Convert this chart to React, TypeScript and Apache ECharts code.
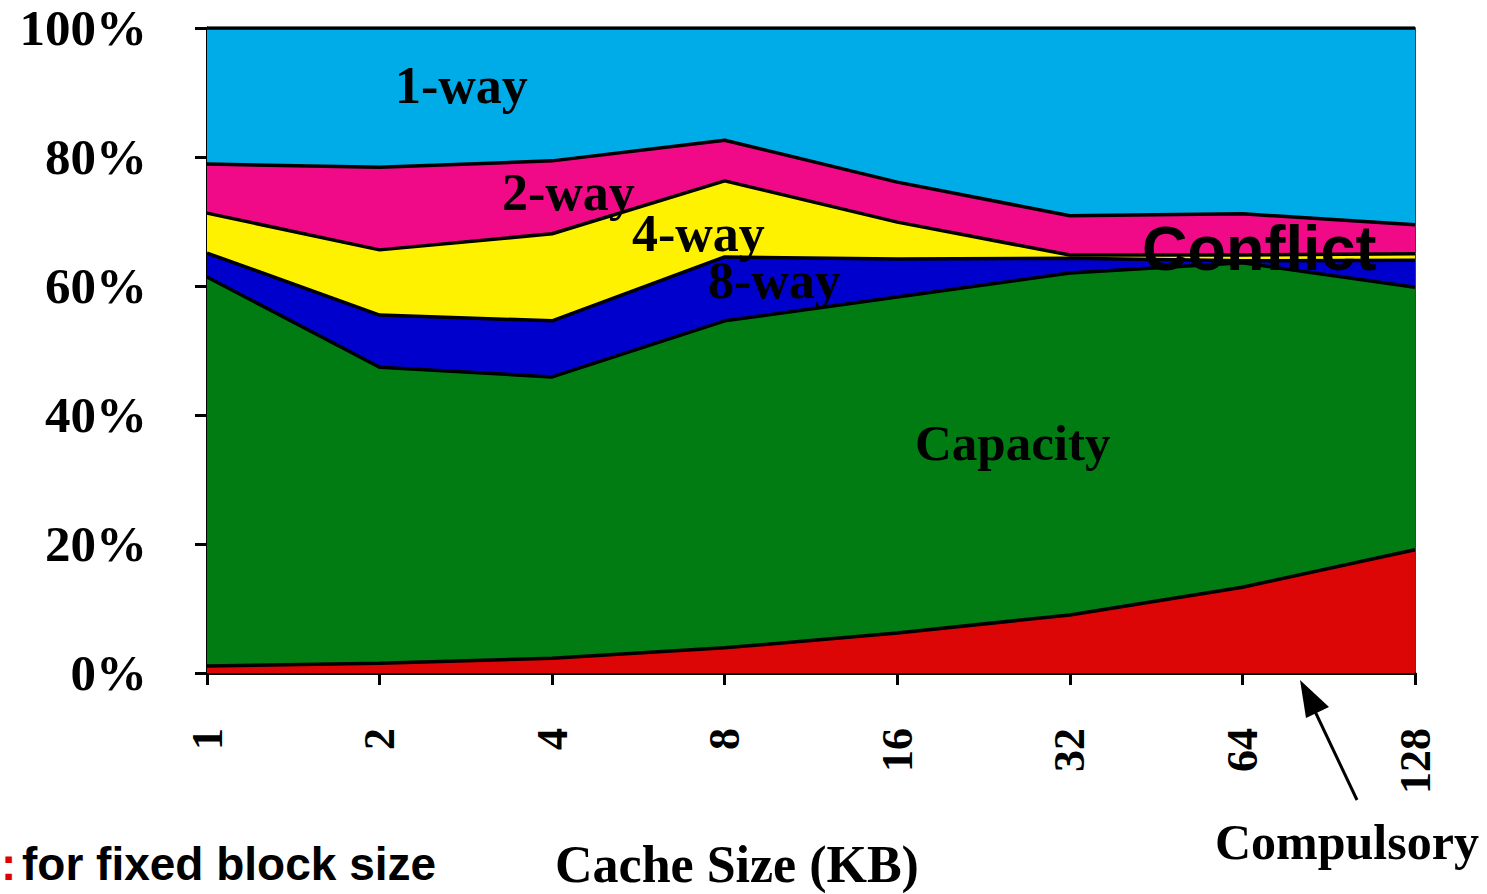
import React, { useEffect, useRef } from "react";
import * as echarts from "echarts";

const categories = ["1", "2", "4", "8", "16", "32", "64", "128"];
const compulsory = [1.1, 1.5, 2.3, 3.9, 6.2, 9.0, 13.3, 19.1];
const capacity = [60.3, 45.9, 43.6, 50.7, 52.1, 53.0, 50.3, 40.7];
const way8 = [3.7, 8.1, 8.7, 9.9, 5.9, 2.3, 0.3, 4.2];
const way4 = [6.2, 10.1, 13.5, 11.8, 5.7, 0.5, 0.9, 1.0];
const way2 = [7.6, 12.8, 11.3, 6.3, 6.2, 6.1, 6.4, 4.5];
const way1 = [21.1, 21.6, 20.6, 17.4, 23.9, 29.1, 28.8, 30.5];

const serif = "'Liberation Serif', 'Times New Roman', serif";
const sans = "'Liberation Sans', Arial, sans-serif";

export default function App() {
  const ref = useRef<HTMLDivElement>(null);
  useEffect(() => {
    if (!ref.current) return;
    const chart = echarts.init(ref.current, null, { renderer: "svg" });
    const mk = (name: string, data: number[], color: string) => ({
      name,
      type: "line",
      stack: "total",
      data,
      symbol: "none",
      showSymbol: false,
      lineStyle: { color: "#000", width: 3.5 },
      areaStyle: { color, opacity: 1 },
      z: 2,
    });
    chart.setOption({
      animation: false,
      backgroundColor: "#fff",
      grid: {
        left: 207,
        top: 28,
        right: 72,
        bottom: 221,
        show: true,
        borderColor: "#000",
        borderWidth: 1.5,
        containLabel: false,
      },
      xAxis: {
        type: "category",
        data: categories,
        boundaryGap: false,
        axisLine: { show: true, lineStyle: { color: "#000", width: 3 } },
        axisTick: { show: true, length: 12, lineStyle: { color: "#000", width: 3 } },
        axisLabel: {
          rotate: 90,
          margin: 55,
          color: "#000",
          fontFamily: serif,
          fontWeight: "bold",
          fontSize: 44,
        },
        splitLine: { show: false },
      },
      yAxis: {
        type: "value",
        min: 0,
        max: 100,
        interval: 20,
        axisLine: { show: true, lineStyle: { color: "#000", width: 3 } },
        axisTick: { show: true, length: 12, lineStyle: { color: "#000", width: 3 } },
        axisLabel: {
          formatter: "{value}%",
          margin: 60,
          color: "#000",
          fontFamily: serif,
          fontWeight: "bold",
          fontSize: 51,
        },
        splitLine: { show: false },
      },
      series: [
        mk("Compulsory", compulsory, "#DD0606"),
        mk("Capacity", capacity, "#007C12"),
        mk("8-way", way8, "#0000CC"),
        mk("4-way", way4, "#FFF200"),
        mk("2-way", way2, "#F00A88"),
        mk("1-way", way1, "#00ACE8"),
      ],
      graphic: [
        { type: "text", z: 100, style: { text: "1-way", x: 395, y: 85, font: `bold 52px ${serif}`, fill: "#000", verticalAlign: "middle" } },
        { type: "text", z: 100, style: { text: "2-way", x: 502, y: 192, font: `bold 52px ${serif}`, fill: "#000", verticalAlign: "middle" } },
        { type: "text", z: 100, style: { text: "4-way", x: 632, y: 233, font: `bold 52px ${serif}`, fill: "#000", verticalAlign: "middle" } },
        { type: "text", z: 100, style: { text: "8-way", x: 708, y: 280, font: `bold 52px ${serif}`, fill: "#000", verticalAlign: "middle" } },
        { type: "text", z: 100, style: { text: "Conflict", x: 1142, y: 248, font: `bold 63px ${sans}`, fill: "#000", verticalAlign: "middle" } },
        { type: "text", z: 100, style: { text: "Capacity", x: 915, y: 443, font: `bold 51px ${serif}`, fill: "#000", verticalAlign: "middle" } },
        { type: "text", z: 100, style: { text: "Compulsory", x: 1215, y: 842, font: `bold 50px ${serif}`, fill: "#000", verticalAlign: "middle" } },
        { type: "text", z: 100, style: { text: "Cache Size (KB)", x: 555, y: 864, font: `bold 52px ${serif}`, fill: "#000", verticalAlign: "middle" } },
        { type: "text", z: 100, style: { text: ":", x: 1, y: 864, font: `bold 46px ${sans}`, fill: "#E00000", verticalAlign: "middle" } },
        { type: "text", z: 100, style: { text: "for fixed block size", x: 22, y: 864, font: `bold 46px ${sans}`, fill: "#000", verticalAlign: "middle" } },
        { type: "line", z: 100, shape: { x1: 1357, y1: 800, x2: 1312, y2: 705 }, style: { stroke: "#000", lineWidth: 3 } },
        { type: "polygon", z: 100, shape: { points: [[1300, 680], [1329, 707], [1306, 718]] }, style: { fill: "#000" } },
      ],
    });
    return () => chart.dispose();
  }, []);
  return (
    <div
      ref={ref}
      style={{ position: "absolute", left: 0, top: 0, width: 1487, height: 894 }}
    />
  );
}
